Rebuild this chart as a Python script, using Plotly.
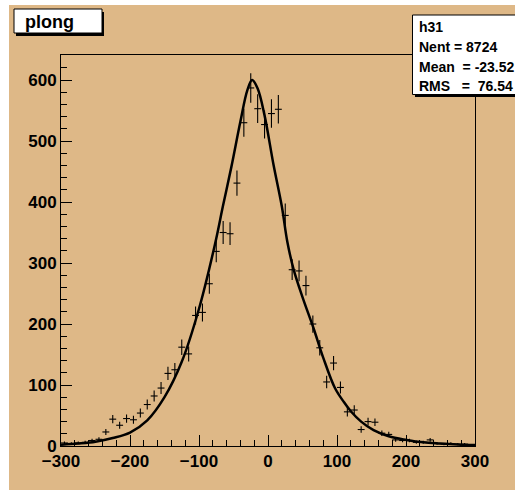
import math
import plotly.graph_objects as go

# ---- data ----
bin_centers = [-295, -285, -275, -265, -255, -245, -235, -225, -215, -205,
               -195, -185, -175, -165, -155, -145, -135, -125, -115, -105,
               -95, -85, -75, -65, -55, -45, -35, -25, -15, -5,
               5, 15, 25, 35, 45, 55, 65, 75, 85, 95,
               105, 115, 125, 135, 145, 155, 165, 175, 185, 195,
               205, 215, 225, 235, 245, 255, 265, 275, 285, 295]
counts = [5, 4, 5, 6, 9, 11, 23, 44, 34, 45,
          43, 54, 68, 82, 95, 119, 125, 162, 151, 214,
          219, 266, 319, 350, 348, 431, 530, 587, 553, 527,
          545, 552, 378, 289, 287, 263, 200, 161, 105, 136,
          96, 56, 59, 27, 40, 39, 21, 19, 10, 9,
          9, 6, 6, 10, 4, 3, 4, 3, 3, 1]

fit_x = [-300, -275, -250, -225, -200, -175, -150, -125, -100, -77, -65, -53,
         -40, -30, -23, -15, -5, 8, 20, 28, 37, 50, 66, 80, 97, 110, 120,
         135, 153, 175, 201, 225, 250, 275, 300]
fit_y = [2, 4, 7, 13, 22, 42, 80, 138, 225, 330, 395, 458,
         532, 583, 600, 586, 542, 461, 393, 335, 290, 244, 193, 145, 95, 72, 57,
         40, 26, 16, 10, 6, 4, 2.5, 1.5]

x_ticks = [-300, -200, -100, 0, 100, 200, 300]
y_ticks = [0, 100, 200, 300, 400, 500, 600]

title_text = "plong"
stats_lines = ["h31", "Nent = 8724", "Mean\u00a0\u00a0= -23.52", "RMS\u00a0\u00a0\u00a0=\u00a0\u00a076.54"]

errs = [math.sqrt(c) for c in counts]

# ---- geometry helpers (pixel -> paper) ----
W, H = 515, 491
L, R, T, B = 61, 40, 55, 45
PW, PH = W - L - R, H - T - B


def px(xp):
    return (xp - L) / PW


def py(yp):
    return (H - B - yp) / PH


TAN = "#DEB887"
FONT = "Liberation Sans, Arial, Helvetica, sans-serif"

fig = go.Figure()
fig.add_trace(go.Scatter(
    x=bin_centers, y=counts, mode="markers",
    marker=dict(size=1, color="rgba(0,0,0,0)"),
    error_x=dict(type="constant", value=5, width=0, thickness=1.1, color="black"),
    error_y=dict(type="data", array=errs, width=0, thickness=1.1, color="black"),
    showlegend=False, hoverinfo="skip"))
fig.add_trace(go.Scatter(
    x=fit_x, y=fit_y, mode="lines",
    line=dict(color="black", width=2.5, shape="spline", smoothing=1.0),
    showlegend=False, hoverinfo="skip"))

axis_common = dict(
    ticks="inside", ticklen=11, tickwidth=1, tickcolor="black",
    showline=True, linecolor="black", linewidth=1, mirror=True,
    showgrid=False, zeroline=False,
    tickfont=dict(family=FONT, size=17, color="black", weight="bold"),
    minor=dict(dtick=20, ticks="inside", ticklen=6, tickwidth=1, tickcolor="black", showgrid=False),
)

fig.update_layout(
    width=W, height=H,
    margin=dict(l=L, r=R, t=T, b=B, pad=0),
    paper_bgcolor="white", plot_bgcolor=TAN,
    xaxis=dict(range=[-300, 300], tickmode="array", tickvals=x_ticks, **axis_common),
    yaxis=dict(range=[0, 641], tickmode="array", tickvals=y_ticks, **axis_common),
)

shapes = [
    # canvas
    dict(type="rect", xref="paper", yref="paper", layer="below",
         x0=px(9), x1=px(530), y0=py(490), y1=py(5),
         fillcolor=TAN, line=dict(width=0)),
    # title box shadow + box
    dict(type="rect", xref="paper", yref="paper",
         x0=px(16), x1=px(104), y0=py(36), y1=py(12),
         fillcolor="black", line=dict(width=0)),
    dict(type="rect", xref="paper", yref="paper",
         x0=px(14), x1=px(102), y0=py(33), y1=py(9),
         fillcolor="white", line=dict(color="black", width=1)),
    # stats box shadow + box
    dict(type="rect", xref="paper", yref="paper",
         x0=px(415), x1=px(540), y0=py(97), y1=py(18),
         fillcolor="black", line=dict(width=0)),
    dict(type="rect", xref="paper", yref="paper",
         x0=px(412.5), x1=px(540), y0=py(94.5), y1=py(15),
         fillcolor="white", line=dict(color="black", width=1)),
]
fig.update_layout(shapes=shapes)

annotations = [
    dict(x=px(23), y=py(22), xref="paper", yref="paper", text=title_text,
         showarrow=False, xanchor="left", yanchor="middle",
         font=dict(family=FONT, size=18, color="black", weight="bold")),
]
for yy, line in zip([27, 47, 67, 86], stats_lines):
    annotations.append(dict(x=px(417), y=py(yy), xref="paper", yref="paper", text=line,
                            showarrow=False, xanchor="left", yanchor="middle",
                            font=dict(family=FONT, size=14, color="black", weight="bold")))
fig.update_layout(annotations=annotations)

fig.write_html("out.html",
               config={"displayModeBar": False},
               post_script="document.body.style.margin='0px';document.body.style.overflow='hidden';")
